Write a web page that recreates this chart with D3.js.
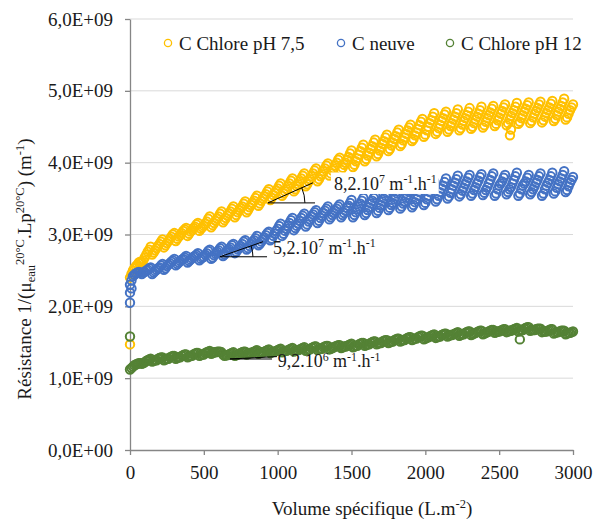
<!DOCTYPE html>
<html>
<head>
<meta charset="utf-8">
<script src="https://cdn.jsdelivr.net/npm/d3@7"></script>
<style>
  html, body { margin: 0; padding: 0; background: #fff; }
  svg { display: block; font-family: "Liberation Serif", "Times New Roman", serif; }
</style>
</head>
<body>
<svg id="chart" width="593" height="525"></svg>
<script>
// ---------------- DATA ----------------
// Sampling grid A: specific volume (L.m-2)
const volume = [
  0,20,40,60,80,100,120,140,160,180,
  200,220,240,260,280,300,320,340,360,380,
  400,420,440,460,480,500,520,540,560,580,
  600,620,640,660,680,700,720,740,760,780,
  800,820,840,860,880,900,920,940,960,980,
  1000,1020,1040,1060,1080,1100,1120,1140,1160,1180,
  1200,1220,1240,1260,1280,1300,1320,1340,1360,1380,
  1400,1420,1440,1460,1480,1500,1520,1540,1560,1580,
  1600,1620,1640,1660,1680,1700,1720,1740,1760,1780,
  1800,1820,1840,1860,1880,1900,1920,1940,1960,1980,
  2000,2020,2040,2060,2080,2100,2120,2140,2160,2180,
  2200,2220,2240,2260,2280,2300,2320,2340,2360,2380,
  2400,2420,2440,2460,2480,2500,2520,2540,2560,2580,
  2600,2620,2640,2660,2680,2700,2720,2740,2760,2780,
  2800,2820,2840,2860,2880,2900,2920,2940,2960,2980,
  3000
];
// Sampling grid B (readings taken between the grid-A samples)
const volumeB = [
  10,30,50,70,90,110,130,150,170,190,
  210,230,250,270,290,310,330,350,370,390,
  410,430,450,470,490,510,530,550,570,590,
  610,630,650,670,690,710,730,750,770,790,
  810,830,850,870,890,910,930,950,970,990,
  1010,1030,1050,1070,1090,1110,1130,1150,1170,1190,
  1210,1230,1250,1270,1290,1310,1330,1350,1370,1390,
  1410,1430,1450,1470,1490,1510,1530,1550,1570,1590,
  1610,1630,1650,1670,1690,1710,1730,1750,1770,1790,
  1810,1830,1850,1870,1890,1910,1930,1950,1970,1990,
  2010,2030,2050,2070,2090,2110,2130,2150,2170,2190,
  2210,2230,2250,2270,2290,2310,2330,2350,2370,2390,
  2410,2430,2450,2470,2490,2510,2530,2550,2570,2590,
  2610,2630,2650,2670,2690,2710,2730,2750,2770,2790,
  2810,2830,2850,2870,2890,2910,2930,2950,2970,2990
];
// Resistance values, in units of 1e9 m-1
const resChlore75 = [
  2.40,2.50,2.56,2.61,2.61,2.68,2.76,2.83,2.75,2.81,
  2.87,2.93,2.85,2.91,2.97,3.02,2.94,2.99,3.05,3.09,
  3.01,3.06,3.11,3.16,3.08,3.12,3.18,3.25,3.13,3.19,
  3.25,3.32,3.20,3.26,3.32,3.39,3.27,3.34,3.39,3.46,
  3.34,3.41,3.47,3.54,3.43,3.50,3.56,3.63,3.51,3.58,
  3.64,3.71,3.57,3.63,3.71,3.78,3.63,3.70,3.78,3.85,
  3.70,3.77,3.85,3.92,3.77,3.84,3.92,3.99,3.85,3.92,
  4.00,4.07,3.93,4.00,4.08,4.17,3.97,4.06,4.16,4.25,
  4.05,4.14,4.23,4.32,4.12,4.21,4.30,4.39,4.19,4.28,
  4.37,4.46,4.26,4.35,4.45,4.53,4.33,4.42,4.52,4.61,
  4.39,4.50,4.59,4.69,4.43,4.53,4.62,4.71,4.46,4.55,
  4.64,4.74,4.48,4.58,4.66,4.76,4.50,4.60,4.68,4.78,
  4.52,4.62,4.70,4.79,4.54,4.63,4.72,4.81,4.55,4.65,
  4.73,4.83,4.57,4.66,4.75,4.84,4.58,4.68,4.76,4.85,
  4.59,4.69,4.77,4.86,4.61,4.71,4.79,4.89,4.63,4.73,
  4.81
];
const resChlore75B = [
  2.45,2.53,2.58,2.62,2.64,2.72,2.79,2.72,2.78,2.84,
  2.90,2.82,2.88,2.94,3.00,2.91,2.97,3.02,3.07,2.98,
  3.04,3.09,3.14,3.05,3.10,3.15,3.22,3.10,3.16,3.22,
  3.29,3.17,3.23,3.29,3.36,3.24,3.31,3.37,3.43,3.31,
  3.38,3.44,3.51,3.40,3.47,3.53,3.60,3.48,3.55,3.61,
  3.68,3.54,3.60,3.67,3.75,3.60,3.67,3.74,3.82,3.67,
  3.74,3.81,3.89,3.74,3.81,3.88,3.96,3.82,3.89,3.96,
  4.04,3.90,3.97,4.04,4.13,3.94,4.02,4.11,4.21,4.02,
  4.10,4.19,4.28,4.09,4.17,4.26,4.35,4.16,4.24,4.33,
  4.42,4.23,4.31,4.40,4.49,4.30,4.38,4.47,4.57,4.36,
  4.45,4.55,4.64,4.40,4.48,4.58,4.67,4.43,4.51,4.60,
  4.69,4.45,4.53,4.62,4.71,4.47,4.55,4.64,4.73,4.49,
  4.57,4.66,4.75,4.51,4.59,4.68,4.77,4.52,4.60,4.69,
  4.78,4.54,4.62,4.71,4.80,4.55,4.63,4.72,4.81,4.56,
  4.64,4.73,4.82,4.58,4.66,4.75,4.84,4.60,4.68,4.77
];
const resNeuve = [
  2.30,2.42,2.46,2.48,2.45,2.48,2.51,2.54,2.47,2.51,
  2.54,2.59,2.53,2.58,2.62,2.66,2.59,2.63,2.66,2.70,
  2.63,2.67,2.70,2.74,2.66,2.69,2.74,2.79,2.68,2.73,
  2.78,2.83,2.72,2.77,2.82,2.87,2.76,2.81,2.87,2.92,
  2.81,2.87,2.92,2.98,2.87,2.93,2.99,3.04,2.94,3.01,
  3.08,3.15,3.01,3.08,3.16,3.23,3.09,3.15,3.23,3.29,
  3.14,3.21,3.28,3.34,3.19,3.26,3.33,3.39,3.24,3.30,
  3.36,3.42,3.27,3.33,3.40,3.48,3.27,3.35,3.43,3.51,
  3.30,3.38,3.47,3.55,3.33,3.41,3.50,3.58,3.37,3.44,
  3.53,3.60,3.39,3.46,3.55,3.62,3.41,3.49,3.59,3.67,
  3.44,3.54,3.63,3.74,3.49,3.59,3.68,3.78,3.53,3.63,
  3.72,3.82,3.56,3.65,3.74,3.83,3.57,3.66,3.75,3.84,
  3.58,3.66,3.76,3.85,3.57,3.68,3.74,3.83,3.59,3.66,
  3.76,3.86,3.57,3.68,3.74,3.83,3.59,3.67,3.76,3.85,
  3.57,3.68,3.76,3.86,3.60,3.70,3.78,3.88,3.62,3.72,
  3.80
];
const resNeuveB = [
  2.36,2.44,2.47,2.47,2.47,2.50,2.53,2.45,2.49,2.53,
  2.57,2.51,2.56,2.60,2.64,2.57,2.61,2.65,2.68,2.61,
  2.65,2.69,2.72,2.64,2.68,2.72,2.77,2.66,2.71,2.76,
  2.81,2.70,2.75,2.80,2.85,2.74,2.79,2.84,2.90,2.79,
  2.84,2.90,2.95,2.85,2.90,2.96,3.02,2.92,2.98,3.05,
  3.12,2.98,3.05,3.12,3.20,3.06,3.12,3.19,3.26,3.11,
  3.18,3.25,3.31,3.16,3.23,3.30,3.36,3.21,3.27,3.33,
  3.39,3.24,3.30,3.37,3.44,3.24,3.31,3.39,3.47,3.27,
  3.34,3.43,3.51,3.30,3.37,3.46,3.54,3.34,3.41,3.49,
  3.57,3.36,3.43,3.51,3.59,3.38,3.45,3.54,3.63,3.41,
  3.49,3.59,3.69,3.46,3.54,3.64,3.73,3.50,3.58,3.68,
  3.77,3.53,3.61,3.70,3.79,3.54,3.62,3.71,3.80,3.55,
  3.62,3.71,3.81,3.54,3.63,3.71,3.79,3.56,3.63,3.71,
  3.81,3.54,3.63,3.71,3.79,3.56,3.63,3.72,3.81,3.54,
  3.63,3.72,3.81,3.57,3.65,3.74,3.83,3.59,3.67,3.76
];
const resChlore12 = [
  1.12,1.16,1.19,1.21,1.20,1.22,1.25,1.27,1.24,1.25,
  1.28,1.29,1.26,1.27,1.30,1.31,1.28,1.29,1.32,1.33,
  1.30,1.31,1.34,1.35,1.32,1.33,1.36,1.38,1.35,1.36,
  1.37,1.36,1.31,1.32,1.34,1.36,1.32,1.34,1.36,1.37,
  1.34,1.35,1.37,1.39,1.35,1.36,1.38,1.40,1.36,1.37,
  1.39,1.41,1.37,1.38,1.40,1.42,1.38,1.39,1.41,1.43,
  1.39,1.40,1.43,1.44,1.40,1.41,1.44,1.45,1.41,1.43,
  1.45,1.46,1.43,1.44,1.46,1.48,1.44,1.45,1.48,1.49,
  1.46,1.47,1.50,1.51,1.48,1.49,1.52,1.53,1.50,1.51,
  1.54,1.55,1.52,1.53,1.56,1.57,1.54,1.55,1.58,1.59,
  1.55,1.57,1.59,1.61,1.57,1.58,1.61,1.62,1.59,1.60,
  1.62,1.64,1.60,1.61,1.64,1.65,1.61,1.63,1.65,1.66,
  1.62,1.64,1.66,1.67,1.64,1.65,1.67,1.68,1.65,1.66,
  1.68,1.70,1.66,1.67,1.70,1.71,1.67,1.67,1.69,1.69,
  1.65,1.65,1.67,1.68,1.63,1.64,1.66,1.66,1.62,1.63,
  1.65
];
const resChlore12B = [
  1.14,1.18,1.20,1.21,1.21,1.24,1.26,1.23,1.25,1.27,
  1.29,1.25,1.27,1.29,1.31,1.27,1.29,1.31,1.33,1.29,
  1.31,1.33,1.35,1.31,1.33,1.35,1.37,1.34,1.36,1.37,
  1.37,1.33,1.32,1.33,1.35,1.31,1.33,1.35,1.37,1.33,
  1.35,1.36,1.38,1.34,1.36,1.37,1.39,1.35,1.37,1.38,
  1.40,1.36,1.38,1.39,1.41,1.37,1.39,1.40,1.42,1.38,
  1.40,1.42,1.44,1.39,1.41,1.43,1.45,1.40,1.42,1.44,
  1.46,1.42,1.44,1.45,1.47,1.43,1.45,1.47,1.49,1.45,
  1.47,1.49,1.51,1.47,1.49,1.51,1.53,1.49,1.51,1.53,
  1.55,1.51,1.53,1.55,1.57,1.53,1.55,1.57,1.59,1.54,
  1.56,1.58,1.60,1.56,1.58,1.60,1.62,1.58,1.60,1.61,
  1.63,1.59,1.61,1.63,1.65,1.60,1.62,1.64,1.66,1.61,
  1.63,1.65,1.67,1.63,1.65,1.66,1.68,1.64,1.66,1.67,
  1.69,1.65,1.67,1.69,1.71,1.66,1.67,1.68,1.69,1.64,
  1.65,1.66,1.68,1.62,1.64,1.65,1.66,1.61,1.63,1.64
];
// Isolated points (first measurements / outliers)
const extraVolChlore75 = [0, 2573, 2580];
const extraResChlore75 = [1.47, 4.38, 4.46];
const extraVolNeuve = [0, 0, 10];
const extraResNeuve = [2.05, 2.19, 2.25];
const extraVolChlore12 = [0, 2640];
const extraResChlore12 = [1.58, 1.54];

const seriesNames = ["C Chlore pH 7,5", "C neuve", "C Chlore pH 12"];
const seriesColors = ["#FFC000", "#4472C4", "#548235"];

const xTicks = [0, 500, 1000, 1500, 2000, 2500, 3000];
const yTicks = [0, 1, 2, 3, 4, 5, 6];
const yTickLabels = ["0,0E+00","1,0E+09","2,0E+09","3,0E+09","4,0E+09","5,0E+09","6,0E+09"];

// Slope annotation labels (mantissa | exponent)
const slopeLabels = ["8,2.10|7", "5,2.10|7", "9,2.10|6"];

// ---------------- CHART ----------------
const svg = d3.select("#chart");
const x = d3.scaleLinear().domain([0, 3000]).range([130, 573]);
const y = d3.scaleLinear().domain([0, 6]).range([450, 19]);
const textColor = "#1a1a1a";
const axisColor = "#868686";

// gridlines
svg.append("g").selectAll("line").data(yTicks.filter(d => d > 0)).join("line")
  .attr("x1", x(0)).attr("x2", x(3000))
  .attr("y1", d => y(d)).attr("y2", d => y(d))
  .attr("stroke", "#d9d9d9").attr("stroke-width", 1);

// axes
const yAxis = d3.axisLeft(y).tickValues(yTicks).tickFormat((d, i) => yTickLabels[i])
  .tickSize(5).tickSizeOuter(0).tickPadding(12);
const gy = svg.append("g").attr("transform", `translate(${x(0)},0)`).call(yAxis);
const xAxis = d3.axisBottom(x).tickValues(xTicks).tickFormat(d => String(d))
  .tickSize(5).tickSizeOuter(0).tickPadding(11);
const gx = svg.append("g").attr("transform", `translate(0,${y(0)})`).call(xAxis);
[gx, gy].forEach(g => {
  g.select(".domain").attr("stroke", axisColor).attr("stroke-width", 1.3);
  g.selectAll(".tick line").attr("stroke", axisColor).attr("stroke-width", 1.3);
  g.selectAll(".tick text").attr("fill", textColor)
    .style("font-family", '"Liberation Serif", serif').style("font-size", "19px");
});

// rich text helper
function rich(sel, parts, fs) {
  let off = 0;
  parts.forEach(p => {
    const target = p.s === "sup" ? -fs * 0.36 : p.s === "sub" ? fs * 0.22 : 0;
    sel.append("tspan").text(p.t)
      .attr("dy", (target - off).toFixed(2))
      .style("font-size", (p.s ? fs * 0.66 : fs) + "px");
    off = target;
  });
  return sel;
}
function slopeParts(label) {
  const [a, e] = label.split("|");
  return [{t: a}, {t: e, s: "sup"}, {t: " m"}, {t: "-1", s: "sup"}, {t: ".h"}, {t: "-1", s: "sup"}];
}

// series points
const seriesA = [resChlore75, resNeuve, resChlore12];
const seriesB = [resChlore75B, resNeuveB, resChlore12B];
const extraV = [extraVolChlore75, extraVolNeuve, extraVolChlore12];
const extraR = [extraResChlore75, extraResNeuve, extraResChlore12];

seriesA.forEach((vals, si) => {
  const pts = volume.map((v, i) => [v, vals[i]])
    .concat(volumeB.map((v, i) => [v, seriesB[si][i]]))
    .sort((a, b) => a[0] - b[0])
    .concat(extraV[si].map((v, i) => [v, extraR[si][i]]));
  svg.append("g").selectAll("circle").data(pts).join("circle")
    .attr("cx", d => x(d[0])).attr("cy", d => y(d[1])).attr("r", 4.2)
    .attr("fill", "none").attr("stroke", seriesColors[si]).attr("stroke-width", 2);
});

// annotation geometry (data units)
const annot = [
  {o: [934, 3.44], e: [1239, 3.72], h: 1253, r: 37, t: [1381, 3.62], bg: true},
  {o: [609, 2.69], e: [901, 2.90], h: 928, r: 33, t: [968, 2.73], bg: false},
  {o: [677, 1.267], e: [995, 1.30], h: 962, r: 0, t: [1000, 1.155], bg: false}
];
annot.forEach((a, i) => {
  const g = svg.append("g");
  const ox = x(a.o[0]), oy = y(a.o[1]);
  const ex = x(a.e[0]), ey = y(a.e[1]);
  g.append("line").attr("x1", ox).attr("y1", oy).attr("x2", ex).attr("y2", ey)
    .attr("stroke", "#000").attr("stroke-width", 1);
  g.append("line").attr("x1", ox).attr("y1", oy).attr("x2", x(a.h)).attr("y2", oy)
    .attr("stroke", "#000").attr("stroke-width", 1);
  if (a.r > 0) {
    const ang = Math.atan2(oy - ey, ex - ox);
    g.append("path")
      .attr("d", `M${ox + a.r},${oy} A${a.r},${a.r} 0 0 0 ${ox + a.r * Math.cos(ang)},${oy - a.r * Math.sin(ang)}`)
      .attr("fill", "none").attr("stroke", "#000").attr("stroke-width", 1);
  }
  const t = g.append("text").attr("x", x(a.t[0])).attr("y", y(a.t[1]))
    .attr("fill", textColor).style("font-size", "18px");
  rich(t, slopeParts(slopeLabels[i]), 18);
  if (a.bg) {
    const bb = t.node().getBBox();
    g.insert("rect", "text").attr("x", bb.x - 3).attr("y", bb.y).attr("width", bb.width + 5)
      .attr("height", bb.height).attr("fill", "#fff");
  }
});

// legend
const legendX = [168, 341, 450];
const legendY = 43;
seriesNames.forEach((n, i) => {
  svg.append("circle").attr("cx", legendX[i]).attr("cy", legendY).attr("r", 3.6)
    .attr("fill", "none").attr("stroke", seriesColors[i]).attr("stroke-width", 1.3);
  svg.append("text").attr("x", legendX[i] + 11).attr("y", legendY).attr("dy", "0.35em")
    .attr("fill", textColor).style("font-size", "19px").text(n);
});

// axis titles
const xt = svg.append("text").attr("x", 372).attr("y", 515).attr("text-anchor", "middle")
  .attr("fill", textColor).style("font-size", "19px");
rich(xt, [{t: "Volume spécifique (L.m"}, {t: "-2", s: "sup"}, {t: ")"}], 19);

const yt = svg.append("text").attr("transform", "translate(31,269) rotate(-90)")
  .attr("text-anchor", "middle").attr("fill", textColor).style("font-size", "19px");
rich(yt, [
  {t: "Résistance 1/(μ"}, {t: "eau", s: "sub"}, {t: "20°C", s: "sup"},
  {t: ".Lp"}, {t: "20°C", s: "sup"}, {t: ") (m"}, {t: "-1", s: "sup"}, {t: ")"}
], 19);
</script>
</body>
</html>
